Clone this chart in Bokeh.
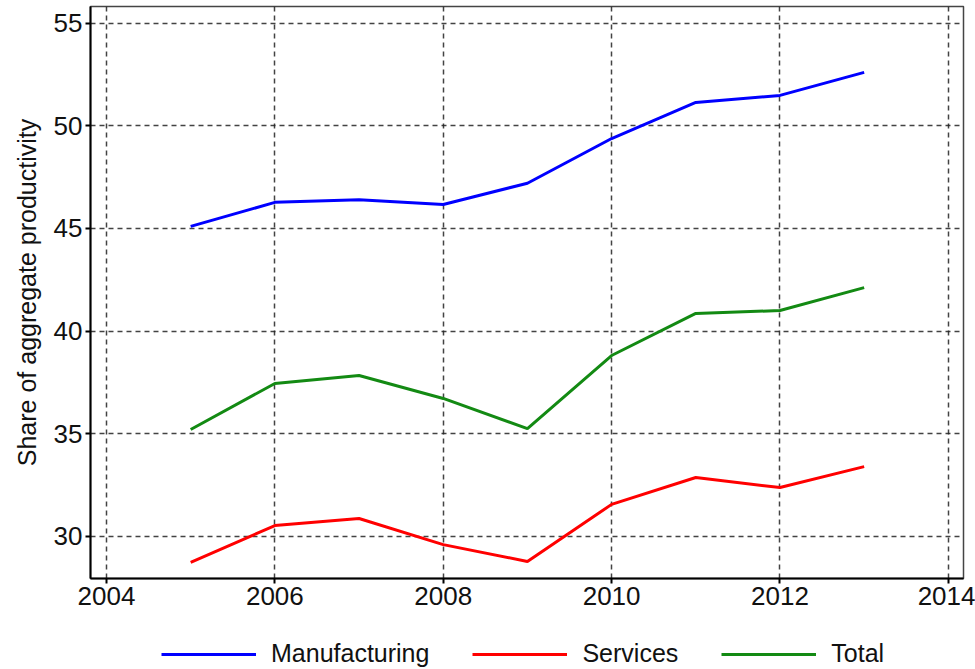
from bokeh.plotting import figure
from bokeh.layouts import column
from bokeh.models import Range1d, FixedTicker, Legend, LegendItem
from bokeh.embed import file_html
from bokeh.resources import INLINE

years = [2005, 2006, 2007, 2008, 2009, 2010, 2011, 2012, 2013]
manufacturing = [45.1, 46.27, 46.4, 46.17, 47.2, 49.38, 51.14, 51.48, 52.6]
services = [28.73, 30.53, 30.87, 29.6, 28.78, 31.56, 32.87, 32.38, 33.4]
total = [35.21, 37.45, 37.84, 36.72, 35.25, 38.81, 40.86, 41.0, 42.12]
series_names = ["Manufacturing", "Services", "Total"]

x_ticks = [2004, 2006, 2008, 2010, 2012, 2014]
y_ticks = [30, 35, 40, 45, 50, 55]

FONT = "Liberation Sans"
COLORS = ["#0000ff", "#ff0000", "#138a13"]

p = figure(width=975, height=620, output_backend="svg",
           toolbar_location=None, x_range=Range1d(2003.81, 2014.18),
           y_range=Range1d(27.95, 55.81),
           min_border_left=90, min_border_top=6, min_border_right=12,
           min_border_bottom=42)
p.background_fill_color = "white"
p.border_fill_color = "white"
p.outline_line_color = "#444444"
p.outline_line_width = 1.5

for ys, c in zip([manufacturing, services, total], COLORS):
    p.line(years, ys, line_color=c, line_width=3)

for ax in (p.xaxis[0], p.yaxis[0]):
    ax.axis_line_color = "black"
    ax.axis_line_width = 2
    ax.major_tick_line_color = "black"
    ax.major_tick_line_width = 2
    ax.major_tick_out = 5
    ax.major_tick_in = 0
    ax.minor_tick_line_color = None
    ax.major_label_text_font = FONT
    ax.major_label_text_font_size = "26px"
    ax.major_label_text_color = "#111111"
    ax.major_label_standoff = 3

p.xaxis[0].ticker = FixedTicker(ticks=x_ticks)
p.yaxis[0].ticker = FixedTicker(ticks=y_ticks)
p.yaxis[0].axis_label = "Share of aggregate productivity"
p.yaxis[0].axis_label_text_font = FONT
p.yaxis[0].axis_label_text_font_size = "25px"
p.yaxis[0].axis_label_text_font_style = "normal"
p.yaxis[0].axis_label_text_color = "#111111"
p.yaxis[0].axis_label_standoff = 10

for g in (p.xgrid[0], p.ygrid[0]):
    g.grid_line_color = "#222222"
    g.grid_line_width = 1.5
    g.grid_line_dash = "5 4"
    g.grid_line_alpha = 0.85
p.xgrid[0].ticker = FixedTicker(ticks=x_ticks)
p.ygrid[0].ticker = FixedTicker(ticks=y_ticks)

# legend strip below the chart (same series, drawn outside its visible range)
p2 = figure(width=975, height=49, output_backend="svg", toolbar_location=None,
            x_range=Range1d(0, 1), y_range=Range1d(0, 1),
            x_axis_type=None, y_axis_type=None,
            min_border_left=0, min_border_right=0, min_border_top=0,
            min_border_bottom=0)
p2.outline_line_color = None
p2.grid.visible = False
p2.background_fill_color = "white"
p2.border_fill_color = "white"
items = []
for name, ys, c in zip(series_names, [manufacturing, services, total], COLORS):
    r = p2.line(years, ys, line_color=c, line_width=3)
    items.append(LegendItem(label=name, renderers=[r]))

legend = Legend(items=items, orientation="horizontal", location=(71, 1),
                border_line_color=None, background_fill_alpha=0,
                label_text_font=FONT, label_text_font_size="25px",
                label_text_color="#111111",
                glyph_width=95, glyph_height=24, label_standoff=15,
                spacing=43, padding=0, margin=0)
p2.add_layout(legend, "center")

layout = column(p, p2, spacing=0)
open("out.html", "w").write(file_html(layout, INLINE))
